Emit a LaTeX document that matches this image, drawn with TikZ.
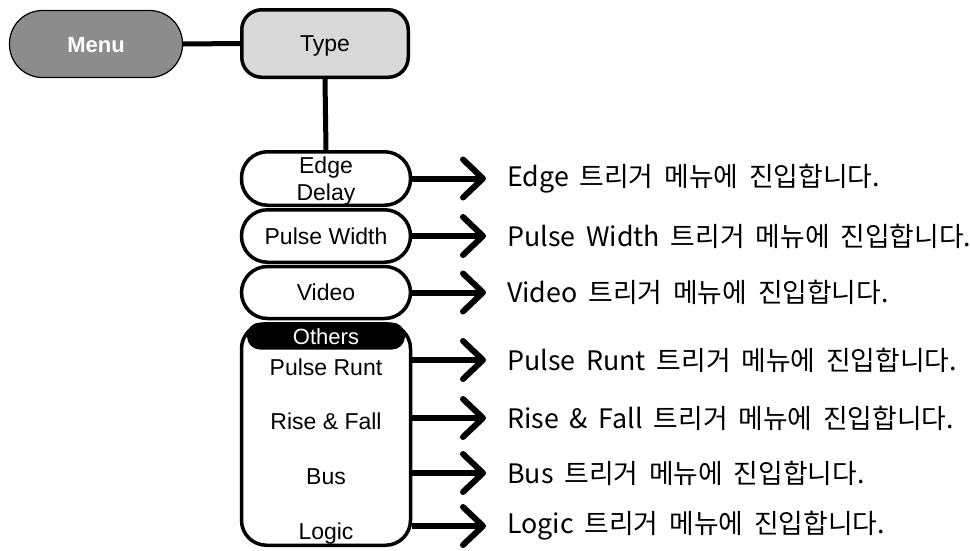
\documentclass[tikz,border=0pt]{standalone}
\usepackage{fontspec}
\setmainfont{Liberation Sans}
\newfontfamily\krfont[WordSpace={1.8}]{Noto Sans CJK KR}
\usetikzlibrary{arrows.meta}
\definecolor{menugray}{RGB}{140,140,140}
\definecolor{typegray}{RGB}{217,217,217}
\begin{document}
\begin{tikzpicture}[x=1pt,y=-1pt,
  box/.style={draw, line width=3.5pt, rounded corners=26pt, minimum width=169pt, minimum height=53.5pt, inner sep=0pt, font=\fontsize{23}{27}\selectfont, align=center, fill=white, text height=16.5pt, text depth=0pt},
  itemtxt/.style={font=\fontsize{23}{26}\selectfont, inner sep=0pt, text height=16.5pt, text depth=0pt},
  desc/.style={anchor=west, inner sep=0pt, font=\krfont\fontsize{26.8}{30}\selectfont},
  link/.style={line width=5pt},
  arr/.style={line width=6pt, -{Straight Barb[length=20pt,width=38pt,round]}}
]
\path[use as bounding box] (0,0) rectangle (970,550);

\node[draw, line width=1.2pt, fill=menugray, rounded corners=33pt, minimum width=173pt, minimum height=67pt, inner sep=0pt, font=\bfseries\fontsize{22}{26}\selectfont, text=white, text height=16pt, text depth=0pt] (menu) at (96,44) {Menu};
\node[box, fill=typegray, rounded corners=20pt, minimum width=166.5pt, minimum height=67.5pt] (type) at (325,43.5) {Type};

\node[box, label={[font=\fontsize{23}{27}\selectfont, align=center, yshift=-3pt, inner sep=0pt]center:Edge\\Delay}] (edge) at (326,178.5) {};
\node[box, minimum height=52.5pt] (pulse) at (326,236) {Pulse Width};
\node[box, minimum height=52pt] (video) at (326,292.5) {Video};
\node[box, rounded corners=25pt, minimum height=221.5pt] (others) at (326,434.5) {};
\node[fill=black, rounded corners=13pt, minimum width=158pt, minimum height=27pt, inner sep=0pt, text=white, font=\fontsize{22}{26}\selectfont, text height=16pt, text depth=0pt] (othhead) at (326,336) {Others};

\node[itemtxt] (runt) at (326,367) {Pulse Runt};
\node[itemtxt] (rise) at (326,421) {Rise \& Fall};
\node[itemtxt] (bus) at (326,476) {Bus};
\node[itemtxt] (logic) at (326,531) {Logic};

\node[desc] (d1) at (507,178.5) {Edge 트리거 메뉴에 진입합니다.};
\node[desc] (d2) at (507,236) {Pulse Width 트리거 메뉴에 진입합니다.};
\node[desc] (d3) at (507,292.5) {Video 트리거 메뉴에 진입합니다.};
\node[desc] (d4) at (507,360) {Pulse Runt 트리거 메뉴에 진입합니다.};
\node[desc] (d5) at (507,418) {Rise \& Fall 트리거 메뉴에 진입합니다.};
\node[desc] (d6) at (507,473) {Bus 트리거 메뉴에 진입합니다.};
\node[desc] (d7) at (507,526) {Logic 트리거 메뉴에 진입합니다.};

\draw[link] (menu.east) -- (type.west);
\draw[link] (type.south) -- (edge.north);

\draw[arr] (edge.east) -- ([xshift=-21pt]d1.west);
\draw[arr] (pulse.east) -- ([xshift=-21pt]d2.west);
\draw[arr] (video.east) -- ([xshift=-21pt]d3.west);
\draw[arr] (others.east |- d4.west) -- ([xshift=-21pt]d4.west);
\draw[arr] (others.east |- d5.west) -- ([xshift=-21pt]d5.west);
\draw[arr] (others.east |- d6.west) -- ([xshift=-21pt]d6.west);
\draw[arr] (others.east |- d7.west) -- ([xshift=-21pt]d7.west);
\end{tikzpicture}
\end{document}
